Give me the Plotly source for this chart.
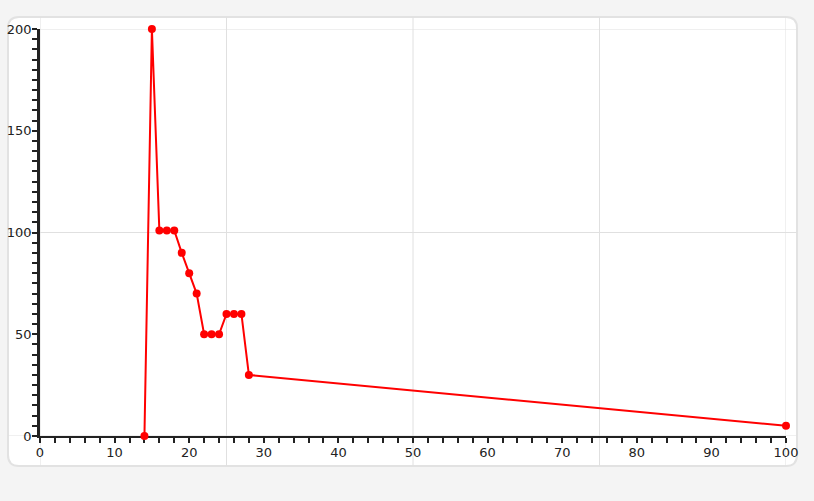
import plotly.graph_objects as go

# ---- data ----
x_values = [14, 15, 16, 17, 18, 19, 20, 21, 22, 23, 24, 25, 26, 27, 28, 100]
y_values = [0, 200, 101, 101, 101, 90, 80, 70, 50, 50, 50, 60, 60, 60, 30, 5]
x_grid_values = [0, 25, 50, 75, 100]
y_grid_values = [0, 100, 200]

# ---- layout geometry (pixels) ----
W, H = 814, 501
ML, MR, MT, MB = 40, 28, 29, 65
PW, PH = W - ML - MR, H - MT - MB
CARD_L, CARD_R, CARD_T, CARD_B, RAD = 8, 797, 17, 466, 11


def px2x(px):
    return (px - ML) / PW


def py2y(py):
    return (H - MB - py) / PH


fig = go.Figure()
fig.add_trace(go.Scatter(
    x=x_values, y=y_values, mode="lines+markers",
    line=dict(color="#ff0000", width=2),
    marker=dict(color="#ff0000", size=8),
    cliponaxis=False, hoverinfo="x+y", showlegend=False,
))

# card with rounded corners
l, r, t, b = px2x(CARD_L), px2x(CARD_R), py2y(CARD_T), py2y(CARD_B)
rx, ry = RAD / PW, RAD / PH
card_path = (
    f"M {l + rx},{t} L {r - rx},{t} Q {r},{t} {r},{t - ry} "
    f"L {r},{b + ry} Q {r},{b} {r - rx},{b} "
    f"L {l + rx},{b} Q {l},{b} {l},{b + ry} "
    f"L {l},{t - ry} Q {l},{t} {l + rx},{t} Z"
)
shapes = [dict(type="path", path=card_path, xref="paper", yref="paper",
               fillcolor="#ffffff", line=dict(color="#e2e2e2", width=2), layer="below")]
for gx in x_grid_values:
    shapes.append(dict(type="line", xref="x", yref="paper", x0=gx, x1=gx,
                       y0=b, y1=t, line=dict(color="#e0e0e0", width=1), layer="below"))
for gy in y_grid_values:
    shapes.append(dict(type="line", xref="paper", yref="y", x0=l, x1=r,
                       y0=gy, y1=gy, line=dict(color="#e0e0e0", width=1), layer="below"))

tickfont = dict(family="DejaVu Sans, sans-serif", size=13, color="#222222")

fig.update_layout(
    width=W, height=H,
    margin=dict(l=ML, r=MR, t=MT, b=MB),
    paper_bgcolor="#f4f4f4",
    plot_bgcolor="rgba(0,0,0,0)",
    shapes=shapes,
    xaxis=dict(
        range=[0, 100], dtick=10, tick0=0, showgrid=False, zeroline=False,
        showline=True, linecolor="#222222", linewidth=2, automargin=False,
        ticks="outside", ticklen=5, tickwidth=2, tickcolor="#222222",
        minor=dict(dtick=2, ticks="outside", ticklen=5, tickwidth=2,
                   tickcolor="#222222", showgrid=False),
        tickfont=tickfont, ticklabelstandoff=-2, layer="below traces", fixedrange=True,
    ),
    yaxis=dict(
        range=[0, 200], dtick=50, tick0=0, showgrid=False, zeroline=False,
        showline=True, linecolor="#222222", linewidth=2.5, automargin=False,
        ticks="outside", ticklen=5, tickwidth=2, tickcolor="#222222",
        minor=dict(dtick=5, ticks="outside", ticklen=5, tickwidth=2,
                   tickcolor="#222222", showgrid=False),
        tickfont=tickfont, ticklabelstandoff=-2, layer="below traces", fixedrange=True,
    ),
)

fig.write_html(
    "out.html",
    config={"displayModeBar": False},
    post_script=(
        "document.documentElement.style.margin='0';"
        "document.body.style.margin='0';"
        "document.body.style.overflow='hidden';"
        "document.body.style.background='#f4f4f4';"
    ),
)
